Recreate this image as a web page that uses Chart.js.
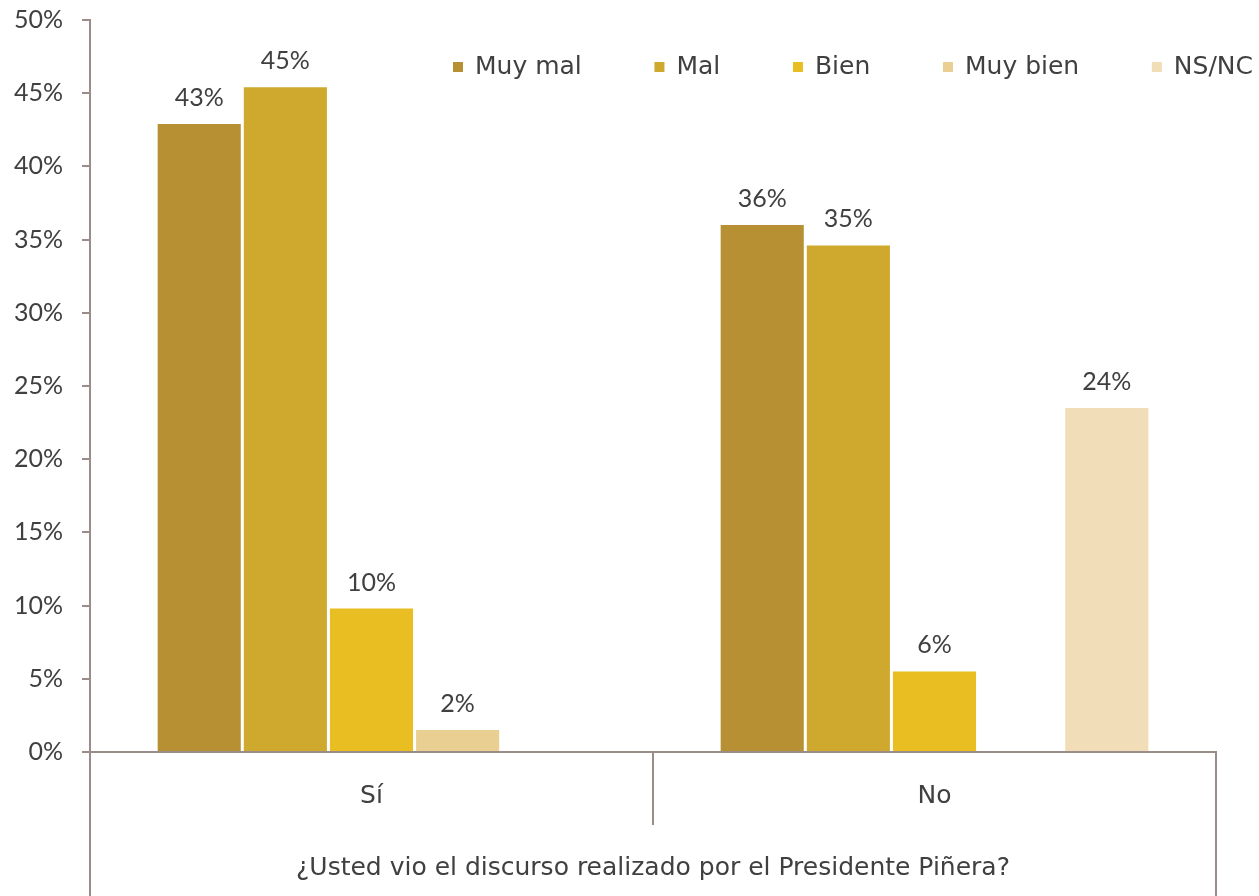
<!DOCTYPE html>
<html>
<head>
<title>Discurso Piñera</title>
<style>
html, body { margin:0; padding:0; background:#ffffff; }
#wrap { width:1259px; height:896px; }
</style>
</head>
<body>
<script src="https://cdn.jsdelivr.net/npm/chart.js"></script>
<div id="wrap"><canvas id="myChart" width="1259" height="896"></canvas></div>
<script>
// data
var categories = ['Sí', 'No'];
var seriesNames = ['Muy mal', 'Mal', 'Bien', 'Muy bien', 'NS/NC'];
var muyMal  = [42.9, 36.0];
var mal     = [45.4, 34.6];
var bien    = [9.8, 5.5];
var muyBien = [1.5, null];
var nsnc    = [null, 23.5];
var colors = ['#B69032', '#CFA82E', '#E8BE22', '#EACF92', '#F1DDB7'];
var axisTitle = '¿Usted vio el discurso realizado por el Presidente Piñera?';

var NUMFONT = "Lato, 'DejaVu Sans', sans-serif";   // numbers
var WORDFONT = "'DejaVu Sans', sans-serif";        // words
var FS = 25;
var TXT = '#404040';
var AXIS = '#9A8C88';

var allSeries = [muyMal, mal, bien, muyBien, nsnc];
var datasets = [];
allSeries.forEach(function (vals, i) {
    datasets.push({
        label: seriesNames[i],
        data: vals,
        backgroundColor: colors[i],
        borderWidth: 0,
        barPercentage: 0.965,
        categoryPercentage: 0.765
    });
});

// value labels above bars
var valueLabels = {
    id: 'valueLabels',
    afterDatasetsDraw: function (chart) {
        var ctx = chart.ctx;
        ctx.save();
        ctx.font = FS + 'px ' + NUMFONT;
        ctx.fillStyle = TXT;
        ctx.textAlign = 'center';
        ctx.textBaseline = 'alphabetic';
        chart.data.datasets.forEach(function (ds, di) {
            chart.getDatasetMeta(di).data.forEach(function (bar, i) {
                var v = ds.data[i];
                if (v === null || v === undefined) return;
                ctx.fillText(Math.round(v) + '%', bar.x, bar.y - 18);
            });
        });
        ctx.restore();
    }
};

// legend inside the plot, top right
var innerLegend = {
    id: 'innerLegend',
    afterDraw: function (chart) {
        var ctx = chart.ctx;
        ctx.save();
        ctx.font = FS + 'px ' + WORDFONT;
        ctx.textBaseline = 'alphabetic';
        var startX = 453, endX = 1253, base = 74, box = 10, gapIn = 12;
        var widths = chart.data.datasets.map(function (ds) {
            return box + gapIn + ctx.measureText(ds.label).width;
        });
        var total = widths.reduce(function (a, b) { return a + b; }, 0);
        var gap = (endX - startX - total) / (widths.length - 1);
        var x = startX;
        chart.data.datasets.forEach(function (ds, i) {
            ctx.fillStyle = ds.backgroundColor;
            ctx.fillRect(x, base - 12, box, box);
            ctx.fillStyle = TXT;
            ctx.fillText(ds.label, x + box + gapIn, base);
            x += widths[i] + gap;
        });
        ctx.restore();
    }
};

// category separators below the x axis
var separators = {
    id: 'separators',
    afterDraw: function (chart) {
        var ctx = chart.ctx;
        var a = chart.chartArea;
        var n = chart.data.labels.length;
        var w = (a.right - a.left) / n;
        ctx.save();
        ctx.strokeStyle = AXIS;
        ctx.lineWidth = 2;
        for (var i = 0; i <= n; i++) {
            var x = Math.round(a.left + i * w);
            var yEnd = (i === 0 || i === n) ? chart.height : a.bottom + 73;
            ctx.beginPath();
            ctx.moveTo(x, a.bottom);
            ctx.lineTo(x, yEnd);
            ctx.stroke();
        }
        ctx.restore();
    }
};

const ctx = document.getElementById('myChart').getContext('2d');
const myChart = new Chart(ctx, {
    type: 'bar',
    data: {
        labels: categories,
        datasets: datasets
    },
    options: {
        responsive: false,
        animation: false,
        layout: { padding: { left: 0, top: 20, right: 43, bottom: 0 } },
        plugins: {
            legend: { display: false },
            tooltip: { enabled: false }
        },
        scales: {
            x: {
                grid: { display: false, drawTicks: false },
                border: { display: true, color: AXIS, width: 2 },
                ticks: { color: TXT, font: { family: WORDFONT, size: FS }, padding: 29 },
                title: {
                    display: true,
                    text: axisTitle,
                    color: TXT,
                    font: { family: WORDFONT, size: FS },
                    padding: { top: 0, bottom: 13 }
                },
                afterFit: function (scale) { scale.height = 144; }
            },
            y: {
                min: 0,
                max: 50,
                ticks: {
                    stepSize: 5,
                    color: TXT,
                    font: { family: NUMFONT, size: FS },
                    padding: 19,
                    callback: function (v) { return v + '%'; }
                },
                grid: { drawOnChartArea: false, drawTicks: true, tickLength: 8, color: AXIS, lineWidth: 2 },
                border: { display: true, color: AXIS, width: 2 },
                afterFit: function (scale) {
                    scale.width = 90;
                    scale.paddingTop = 0;
                    scale.paddingBottom = 0;
                }
            }
        }
    },
    plugins: [valueLabels, innerLegend, separators]
});
</script>
</body>
</html>
